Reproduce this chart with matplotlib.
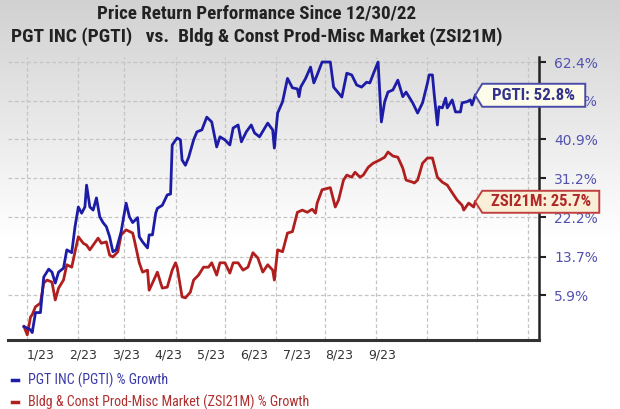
import numpy as np
import pandas as pd
import matplotlib
matplotlib.use("Agg")
import matplotlib.pyplot as plt
from matplotlib import font_manager
from matplotlib.lines import Line2D
from matplotlib.patches import Polygon
import matplotlib.dates as mdates

# ---------------- data ----------------
base_date = "2022-12-30"

pgti_days = [0, 4, 5, 7, 10, 12, 15, 17, 19, 21, 24, 26, 29, 31, 33, 35, 37, 38, 40, 42,
             44, 46, 48, 50, 52, 54, 56, 59, 62, 64, 66, 69, 70, 72, 75, 76, 78, 80, 81, 84,
             87, 89, 90, 93, 95, 96, 98, 100, 103, 105, 108, 111, 114, 117, 119, 122, 125, 127, 130, 132,
             135, 138, 140, 143, 148, 151, 152, 154, 157, 160, 163, 166, 167, 168, 171, 174, 176, 178, 181, 186,
             188, 191, 193, 196, 199, 202, 205, 208, 210, 213, 215, 217, 219, 221, 224, 227, 230, 232, 236, 239,
             242, 245, 246, 248, 249, 251, 252, 254, 256, 257, 260, 262, 265, 266, 269, 271, 272, 274]
pgti_pct = [0.0, -0.6, -1.1, 2.6, 2.6, 9.5, 11.1, 10.5, 8.3, 10.5, 11.3, 15.1, 14.5, 20.1, 24.5, 23.1, 24.5, 29.6, 24.5, 23.8,
            26.6, 22.3, 21.0, 20.1, 17.9, 14.7, 15.1, 19.0, 25.4, 22.3, 21.0, 22.1, 17.9, 16.8, 15.5, 18.3, 18.3, 23.1, 24.2, 24.9,
            27.3, 27.5, 39.5, 41.3, 40.8, 35.7, 34.4, 36.4, 40.8, 42.9, 43.4, 46.8, 45.5, 39.0, 41.6, 40.8, 39.5, 43.9, 44.7, 40.3,
            42.9, 44.7, 42.6, 41.6, 45.2, 43.4, 38.7, 47.9, 51.0, 57.6, 54.9, 54.6, 52.4, 55.1, 57.6, 60.9, 56.3, 58.6, 62.4, 62.4,
            55.1, 53.4, 52.3, 59.1, 58.6, 55.7, 55.1, 56.5, 56.3, 60.0, 62.4, 45.5, 51.0, 53.7, 54.3, 57.1, 52.4, 53.7, 50.7, 47.9,
            50.7, 56.3, 58.6, 58.6, 53.4, 44.7, 49.6, 49.3, 52.0, 49.3, 51.5, 48.2, 48.2, 50.7, 51.0, 51.5, 50.1, 52.8]

zsi_days = [0, 2, 4, 5, 7, 10, 12, 14, 17, 19, 21, 24, 26, 29, 31, 33, 36, 38, 40, 42,
            45, 47, 50, 52, 54, 57, 59, 62, 66, 67, 70, 72, 75, 76, 78, 81, 83, 84, 87, 90,
            92, 93, 96, 98, 101, 103, 106, 109, 112, 114, 117, 119, 122, 125, 127, 130, 133, 136, 139, 142,
            145, 148, 151, 152, 154, 157, 160, 163, 166, 169, 172, 175, 177, 178, 181, 186, 189, 191, 194, 196,
            199, 201, 204, 206, 209, 212, 216, 219, 221, 224, 227, 230, 232, 236, 237, 239, 242, 245, 248, 251,
            254, 257, 260, 263, 266, 267, 270, 273, 274]
zsi_pct = [0.0, -1.5, 1.8, 2.2, 3.7, 4.4, 8.3, 8.9, 8.5, 5.0, 7.3, 8.9, 12.0, 11.5, 14.7, 17.9, 16.5, 16.1, 15.1, 16.1,
           17.6, 16.5, 16.8, 14.0, 13.6, 14.7, 18.3, 19.4, 18.7, 17.2, 12.4, 10.5, 10.9, 6.9, 8.3, 10.5, 8.3, 7.3, 7.5, 10.9,
           12.4, 11.5, 5.6, 5.4, 6.5, 8.9, 9.9, 11.5, 11.5, 12.4, 9.9, 12.4, 12.4, 10.3, 12.4, 12.4, 10.9, 11.5, 14.5, 13.4,
           10.5, 12.0, 10.9, 8.9, 15.1, 14.7, 18.7, 19.0, 23.3, 23.8, 23.3, 24.0, 23.1, 25.4, 28.5, 29.0, 24.5, 26.1, 30.8, 32.0,
           31.5, 32.7, 31.5, 32.0, 33.9, 34.9, 35.7, 36.4, 37.7, 36.7, 36.4, 33.7, 30.8, 30.3, 30.1, 30.8, 34.9, 36.2, 36.2, 31.5,
           30.3, 29.6, 27.8, 26.1, 24.9, 23.8, 25.4, 24.5, 25.7]

ytick_values = [5.9, 13.7, 22.2, 31.2, 40.9, 51.3, 62.4]
ytick_labels = ["5.9%", "13.7%", "22.2%", "31.2%", "40.9%", "51.3%", "62.4%"]
xtick_labels = ["1/23", "2/23", "3/23", "4/23", "5/23", "6/23", "7/23", "8/23", "9/23"]

title_line1 = "Price Return Performance Since 12/30/22"
title_line2 = "PGT INC (PGTI)   vs.  Bldg & Const Prod-Misc Market (ZSI21M)"
legend_labels = ["PGT INC (PGTI) % Growth", "Bldg & Const Prod-Misc Market (ZSI21M) % Growth"]
pgti_tag = "PGTI: 52.8%"
zsi_tag = "ZSI21M: 25.7%"

# ---------------- style ----------------
BLUE = "#1c1ca6"
RED = "#b01e1e"
TICK_BLUE = "#5252b0"

names = {f.name for f in font_manager.fontManager.ttflist}
NARROW = "Liberation Sans"
for cand in ["Liberation Sans Narrow", "Arial Narrow", "Roboto Condensed", "Open Sans Condensed"]:
    if cand in names:
        NARROW = cand
        break
TFAM = [NARROW, "DejaVu Sans"]

plt.rcParams["font.family"] = ["DejaVu Sans"]

W, H = 620, 409
fig = plt.figure(figsize=(W / 100, H / 100), dpi=100)
renderer = fig.canvas.get_renderer()


def fit(txt, target_px):
    """Scale a text's font size so its rendered width matches target_px."""
    w = txt.get_window_extent(renderer).width
    txt.set_fontsize(txt.get_fontsize() * target_px / w)


# gradient background
bg = fig.add_axes([0, 0, 1, 1], zorder=-10)
grad = np.linspace(0, 1, 409)
vals = np.clip(grad / 0.58, 0, 1)
top = np.array([0.82, 0.82, 0.82])
bot = np.array([1.0, 1.0, 1.0])
img = top[None, :] * (1 - vals[:, None]) + bot[None, :] * vals[:, None]
bg.imshow(img[:, None, :], aspect="auto", extent=[0, 1, 0, 1], origin="upper")
bg.set_axis_off()

ax = fig.add_axes([8 / W, 1 - 340 / H, (539 - 8) / W, (340 - 57) / H])
ax.set_facecolor("none")

t0 = pd.Timestamp(base_date)
pgti_dates = t0 + pd.to_timedelta(pgti_days, unit="D")
zsi_dates = t0 + pd.to_timedelta(zsi_days, unit="D")

ax.set_yscale("function", functions=(lambda v: np.log1p(np.asarray(v) / 100.0),
                                      lambda v: np.expm1(np.asarray(v)) * 100.0))

ax.plot(zsi_dates, zsi_pct, color=RED, lw=2.0, solid_joinstyle="round", zorder=3)
ax.plot(pgti_dates, pgti_pct, color=BLUE, lw=2.0, solid_joinstyle="round", zorder=4)

ax.set_xlim(t0 - pd.Timedelta(days=9.7), t0 + pd.Timedelta(days=312.7))
ax.set_ylim(-2.43, 63.9)

# y axis on right
ax.yaxis.tick_right()
ax.set_yticks(ytick_values)
ax.set_yticklabels(ytick_labels)
ax.tick_params(axis="y", which="major", length=5, width=1.5, color="#222222",
               labelcolor=TICK_BLUE, labelsize=10, pad=6)
ax.yaxis.set_minor_locator(matplotlib.ticker.NullLocator())

# x axis: grid at month starts, labels evenly spaced
ax.xaxis.set_major_locator(mdates.MonthLocator())
ax.xaxis.set_major_formatter(matplotlib.ticker.NullFormatter())
label_pos = [t0 + pd.Timedelta(days=float(d)) for d in np.linspace(10.3, 217.3, len(xtick_labels))]
ax.set_xticks(label_pos, minor=True)
ax.set_xticklabels(xtick_labels, minor=True)
ax.tick_params(axis="x", which="major", length=0)
ax.tick_params(axis="x", which="minor", length=0, labelsize=9, labelcolor="#333333", pad=6)

ax.grid(True, which="major", axis="both", color="#c4c4c4", linestyle=(0, (3, 2)), lw=0.9, zorder=0)

for s in ["left", "top"]:
    ax.spines[s].set_visible(False)
ax.spines["bottom"].set_color("#333333")
ax.spines["bottom"].set_linewidth(2.2)
ax.spines["right"].set_color("#222222")
ax.spines["right"].set_linewidth(1.8)

# titles
t1 = fig.text(257 / W, 1 - 13 / H, title_line1, ha="center", va="center", fontsize=13,
              fontweight="bold", family=TFAM, color="#222222")
t2 = fig.text(257 / W, 1 - 37 / H, title_line2, ha="center", va="center", fontsize=13,
              fontweight="bold", family=TFAM, color="#222222")
fit(t1, 317)
fit(t2, 489)

# legend
handles = [Line2D([], [], color=BLUE, lw=2.5), Line2D([], [], color=RED, lw=2.5)]
leg = fig.legend(handles, legend_labels, loc="upper left", bbox_to_anchor=(0.005, 1 - 363 / H),
                 frameon=False, handlelength=0.45, handletextpad=0.7, labelspacing=0.55,
                 prop={"family": TFAM, "size": 9.5}, borderaxespad=0.3)
for txt, c in zip(leg.get_texts(), ["#3a3aa8", "#b03030"]):
    txt.set_color(c)
fig.canvas.draw()
lw0 = leg.get_texts()[1].get_window_extent(renderer).width
for txt in leg.get_texts():
    txt.set_fontsize(9.5 * 283 / lw0)

# value tags with pointer
fig.canvas.draw()
inv = fig.transFigure.inverted()


def tag(day, value, text, width, height, text_w, edge, face, tcolor):
    x, y = ax.transData.transform((mdates.date2num(t0 + pd.Timedelta(days=day)), value))
    p = 7
    pts = [(x, y), (x + p, y + height / 2), (x + p + width, y + height / 2),
           (x + p + width, y - height / 2), (x + p, y - height / 2)]
    pts = inv.transform(pts)
    poly = Polygon(pts, closed=True, transform=fig.transFigure, facecolor=face,
                   edgecolor=edge, lw=1.4, zorder=20)
    fig.add_artist(poly)
    cx, cy = inv.transform((x + p + width / 2, y))
    t = fig.text(cx, cy, text, ha="center", va="center", fontsize=11, fontweight="bold",
                 family=TFAM, color=tcolor, zorder=21)
    fit(t, text_w)


tag(pgti_days[-1], pgti_pct[-1], pgti_tag, 103, 23, 83, "#4a4aa8", "#fdfbea", "#33338c")
tag(zsi_days[-1], zsi_pct[-1], zsi_tag, 117, 22, 100, "#c04040", "#f8efd6", "#b02828")

fig.savefig("out.png", dpi=100)
